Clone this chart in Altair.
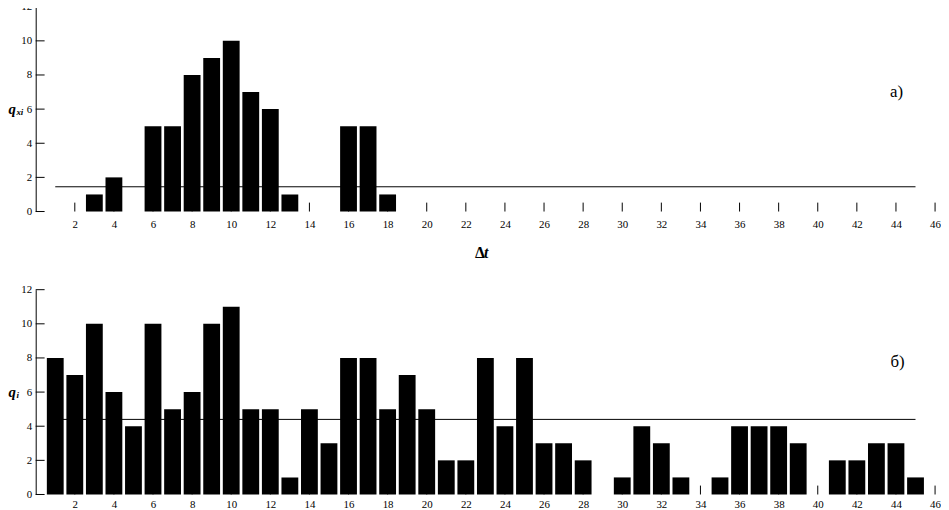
import altair as alt
import pandas as pd

# interval index (Δt) for each bar
intervals = list(range(1, 46))

# panel a) values q_xi
q_a = [0, 0, 1, 2, 0, 5, 5, 8, 9, 10, 7, 6, 1, 0, 0, 5, 5, 1,
       0, 0, 0, 0, 0, 0, 0, 0, 0, 0, 0, 0, 0, 0, 0, 0, 0, 0,
       0, 0, 0, 0, 0, 0, 0, 0, 0]
# panel б) values q_i
q_b = [8, 7, 10, 6, 4, 10, 5, 6, 10, 11,
       5, 5, 1, 5, 3, 8, 8, 5, 7, 5,
       2, 2, 8, 4, 8, 3, 3, 2, 0, 1,
       4, 3, 1, 0, 1, 4, 4, 4, 3, 0,
       2, 2, 3, 3, 1]

# horizontal reference levels
level_a = 1.45
level_b = 4.4

x_tick_values = list(range(2, 47, 2))
y_tick_values = [0, 2, 4, 6, 8, 10, 12]

tag_a = "a)"
tag_b = "б)"
x_title = ["Δ", "t"]

W = 909
H = 207
LABEL_FONT = "Liberation Sans Narrow"

x_scale = alt.Scale(domain=[0, 46], nice=False, zero=False, padding=0)
y_scale = alt.Scale(domain=[0, 12], nice=False, padding=0)


def panel(values, level, tag, sub, q_x, sub_x, label_pad, tag_xy, with_xtitle):
    x_axis = alt.Axis(values=x_tick_values, domain=False, ticks=False, tickSize=0,
                      grid=False, labelPadding=label_pad, format="d", title=None,
                      labelFlush=False, labelOverlap=False,
                      labelFont=LABEL_FONT, labelFontSize=11, labelColor="black")
    y_axis = alt.Axis(values=y_tick_values, domain=True, domainColor="black",
                      domainWidth=1, ticks=False, tickSize=0, grid=False,
                      labelPadding=4, title=None, labelFont=LABEL_FONT,
                      labelFlush=False, labelOverlap=False,
                      labelFontSize=11, labelColor="black")

    bars_df = pd.DataFrame({"t": intervals, "q": values})
    xt_df = pd.DataFrame({"t": x_tick_values})
    yt_df = pd.DataFrame({"q": y_tick_values})
    line_df = pd.DataFrame({"t": [min(intervals), max(intervals)], "q": [level, level]})

    xticks = alt.Chart(xt_df).mark_rule(color="black", strokeWidth=1).encode(
        x=alt.X("t:Q", scale=x_scale, axis=x_axis),
        y=alt.value(H - 9),
        y2=alt.value(H),
    )
    yticks = alt.Chart(yt_df).mark_rule(color="black", strokeWidth=1).encode(
        y=alt.Y("q:Q", scale=y_scale, axis=y_axis),
        x=alt.value(0),
        x2=alt.value(9),
    )
    bars = alt.Chart(bars_df).mark_bar(color="black", size=17, orient="vertical").encode(
        x=alt.X("t:Q", scale=x_scale, axis=x_axis),
        y=alt.Y("q:Q", scale=y_scale, stack=None, axis=y_axis),
    )
    line = alt.Chart(line_df).mark_line(color="black", strokeWidth=1).encode(
        x=alt.X("t:Q", scale=x_scale, axis=x_axis),
        y=alt.Y("q:Q", scale=y_scale, axis=y_axis),
    )
    q_text = alt.Chart(pd.DataFrame({"s": ["q"]})).mark_text(
        font="Liberation Serif", fontSize=15, fontWeight="bold", fontStyle="italic",
        align="left", baseline="middle", color="black").encode(
        text="s:N", x=alt.value(q_x), y=alt.value(H / 2))
    sub_text = alt.Chart(pd.DataFrame({"s": [sub]})).mark_text(
        font="Liberation Serif", fontSize=9, fontWeight="bold", fontStyle="italic",
        align="left", baseline="middle", color="black").encode(
        text="s:N", x=alt.value(sub_x), y=alt.value(H / 2 + 3))
    tag_text = alt.Chart(pd.DataFrame({"s": [tag]})).mark_text(
        font="Liberation Serif", fontSize=17, align="center", baseline="middle",
        color="black").encode(
        text="s:N", x=alt.value(tag_xy[0]), y=alt.value(tag_xy[1]))
    layers = [xticks, yticks, bars, line, q_text, sub_text, tag_text]
    if with_xtitle:
        d_text = alt.Chart(pd.DataFrame({"s": [x_title[0]]})).mark_text(
            font="Liberation Serif", fontSize=16, fontWeight="bold",
            align="left", baseline="middle", color="black").encode(
            text="s:N", x=alt.value(444), y=alt.value(249))
        t_text = alt.Chart(pd.DataFrame({"s": [x_title[1]]})).mark_text(
            font="Liberation Serif", fontSize=16, fontWeight="bold", fontStyle="italic",
            align="left", baseline="middle", color="black").encode(
            text="s:N", x=alt.value(453), y=alt.value(249))
        layers += [d_text, t_text]
    return alt.layer(*layers).properties(width=W, height=H)


top = panel(q_a, level_a, tag_a, "xi", -27.5, -19.5, 7, (870, 86), True)
bottom = panel(q_b, level_b, tag_b, "i", -27.5, -19.5, 4, (871, 73), False)

chart = alt.vconcat(top, bottom, spacing=79, bounds="flush").properties(
    padding={"left": 0, "top": -10, "right": 0, "bottom": 0}
).configure_view(stroke=None)

chart.save("out.html", embed_options={"renderer": "svg", "actions": False})
